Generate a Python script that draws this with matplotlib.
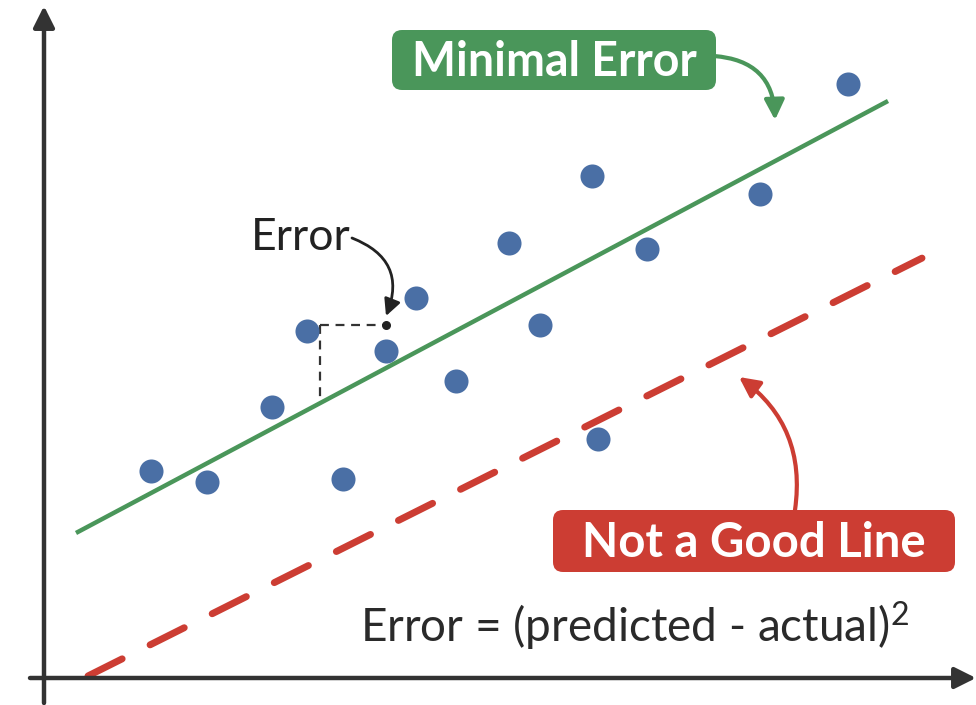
import numpy as np
import matplotlib.pyplot as plt
from matplotlib.patches import FancyBboxPatch

plt.rcParams['font.family'] = ['Lato', 'DejaVu Sans']
plt.rcParams['mathtext.fontset'] = 'custom'
plt.rcParams['mathtext.rm'] = 'Lato'
plt.rcParams['mathtext.it'] = 'Lato:italic'

# scattered observations
xs = [10.7, 16.3, 22.8, 26.3, 29.9, 34.2, 37.2, 41.2, 46.5, 49.6, 54.8, 55.4, 60.3, 71.6, 80.4]
ys = [20.7, 19.6, 27.1, 34.7, 19.9, 32.7, 38.0, 29.7, 43.5, 35.3, 50.2, 23.9, 42.9, 48.4, 59.4]

# good fit line and bad line (slope, intercept, x range)
good_slope, good_icpt = 0.532, 12.8
good_x = [3.2, 84.4]
bad_slope, bad_icpt = 0.501, -2.0
bad_x = [4.4, 87.8]

# the one error marker
err_pt = (34.2, 35.3)
err_corner_x = 27.6
err_bottom_y = 28.0

blue = '#4a6fa5'
green = '#4a965a'
red = '#cc3d33'
dark = '#333333'

fig = plt.figure(figsize=(9.76, 7.05), dpi=100)
ax = fig.add_axes([0, 0, 1, 1])
ax.set_xlim(-4.4, 93.2)
ax.set_ylim(-2.7, 67.8)
ax.axis('off')

# axes with arrow heads
ax.annotate('', xy=(93.2, 0), xytext=(-1.4, 0), annotation_clip=False,
            arrowprops=dict(arrowstyle='-|>', lw=3.2, color=dark, mutation_scale=32, shrinkA=0, shrinkB=0))
ax.annotate('', xy=(0, 67.2), xytext=(0, -2.5), annotation_clip=False,
            arrowprops=dict(arrowstyle='-|>', lw=3.2, color=dark, mutation_scale=32, shrinkA=0, shrinkB=0))

gx = np.array(good_x)
ax.plot(gx, good_slope * gx + good_icpt, color=green, lw=3.2, solid_capstyle='butt', zorder=2)
bx = np.array(bad_x)
ax.plot(bx, bad_slope * bx + bad_icpt, color=red, lw=5, ls=(0, (5.5, 4.5)),
        dash_capstyle='round', zorder=2)

ax.scatter(xs, ys, s=300, color=blue, zorder=3, linewidths=0)

# error construction
ax.plot([err_corner_x, err_pt[0]], [err_pt[1], err_pt[1]], color=dark, lw=1.6, ls=(0, (4, 3)), zorder=2)
ax.plot([err_corner_x, err_corner_x], [err_pt[1], err_bottom_y], color=dark, lw=1.6, ls=(0, (4, 3)), zorder=2)
ax.scatter([err_pt[0]], [err_pt[1]], s=30, color='#222222', zorder=4)

ax.text(25.7, 44.0, 'Error', fontsize=32, color='#222222', ha='center', va='center')
ax.annotate('', xy=(34.2, 36.2), xytext=(30.8, 44.0),
            arrowprops=dict(arrowstyle='-|>', lw=2, color='#222222', mutation_scale=25,
                            connectionstyle='arc3,rad=-0.5', shrinkA=0, shrinkB=0))

# labels in boxes
ax.add_patch(FancyBboxPatch((35.8, 59.8), 30.4, 4.0, boxstyle='round,pad=1.0,rounding_size=1.0',
                            fc=green, ec='none', zorder=5))
ax.text(51.0, 60.2, 'Minimal Error', fontsize=33.5, fontweight='bold', color='white',
        ha='center', va='baseline', zorder=6)
ax.annotate('', xy=(73.1, 55.8), xytext=(67.0, 62.2),
            arrowprops=dict(arrowstyle='-|>', lw=3, color=green, mutation_scale=30,
                            connectionstyle='arc3,rad=-0.45', shrinkA=0, shrinkB=0))

ax.add_patch(FancyBboxPatch((51.9, 11.6), 38.2, 4.2, boxstyle='round,pad=1.0,rounding_size=1.0',
                            fc=red, ec='none', zorder=5))
ax.text(71.0, 12.1, 'Not a Good Line', fontsize=34, fontweight='bold', color='white',
        ha='center', va='baseline', zorder=6)
ax.annotate('', xy=(69.5, 30.1), xytext=(75.1, 16.8),
            arrowprops=dict(arrowstyle='-|>', lw=3, color=red, mutation_scale=30,
                            connectionstyle='arc3,rad=0.3', shrinkA=0, shrinkB=0))

ax.text(31.6, 3.6, r'Error = (predicted - actual)$^2$', fontsize=33, color='#2a2a2a',
        ha='left', va='baseline')

fig.savefig('out.png', dpi=100)
